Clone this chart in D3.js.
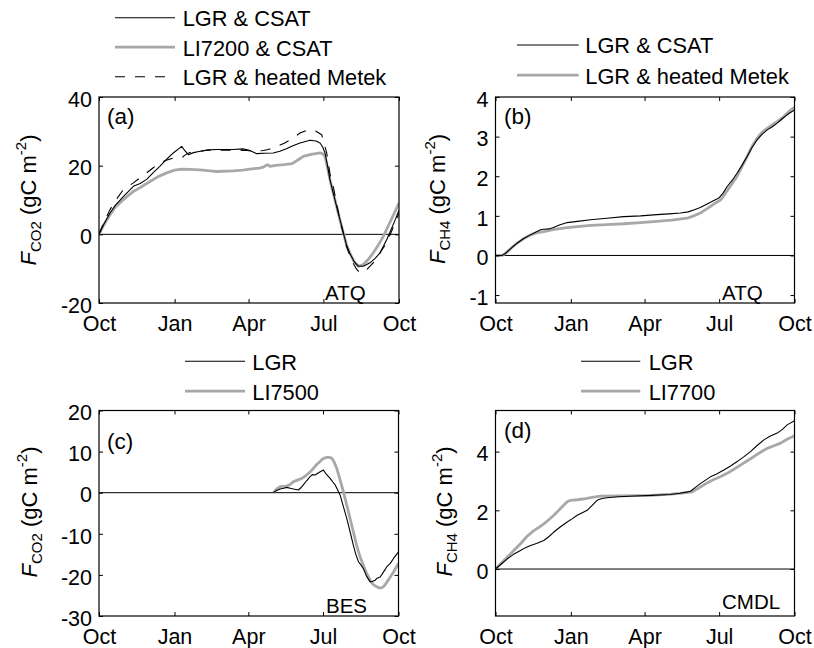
<!DOCTYPE html>
<html><head><meta charset="utf-8">
<script src="https://cdn.jsdelivr.net/npm/d3@7"></script>
<style>
body{margin:0;background:#fff}
svg{display:block}
text{font-family:"Liberation Sans",Arial,Helvetica,sans-serif;fill:#000}
</style>
</head><body>
<svg id="chart" width="814" height="648"></svg>
<script>
// ---------- data ----------
const startDate = "2012-10-01", endDate = "2013-10-01";
const monthTicks = ["2012-10-01","2013-01-01","2013-04-01","2013-07-01","2013-10-01"];
const monthLabels = ["Oct","Jan","Apr","Jul","Oct"];

// [days since 1 Oct, cumulative flux]
const atqCo2LgrCsat = [[0,0],[6,3],[13.4,6.2],[20,8.5],[29.6,11],[41.8,14],[50,14.8],[58,16],[66,18],[74,19.8],[82,21.8],[90.4,23.7],[100.6,25.6],[104,24.5],[108.7,23.2],[115,23.8],[122.9,24.2],[133,24.6],[143,24.7],[163,24.7],[175,24.9],[183,24.5],[191.8,23.5],[200,23.6],[212,23.7],[220,24.2],[228,24.9],[236,25.8],[244.5,26.6],[256.7,27.4],[264,27.2],[268.9,26.6],[272,25.5],[275,23.7],[278,20],[281,15.9],[285,12],[289,8.2],[293,4.5],[297.3,0.4],[301,-3],[305,-5.4],[310,-7.8],[315.5,-9.3],[321.6,-9.3],[329.7,-8.3],[336,-7],[341.9,-5.4],[346,-3.5],[350,-1.6],[355,1.2],[360,4],[365,7]];
const atqCo2Li7200Csat = [[0,0],[6,2.8],[13.4,5.7],[20,8],[29.6,10.1],[41.8,12.5],[50,13.6],[62,15.4],[72,16.8],[82.3,17.9],[92,18.7],[100.6,19],[110,18.9],[122.9,18.8],[135,18.5],[143,18.3],[163,18.5],[175,18.7],[183.7,19],[195,19.3],[200,19.6],[205,20.3],[208,19.8],[215,20.1],[225,20.3],[235,20.6],[241,21.5],[248.6,22.7],[258,23.3],[268.9,23.7],[272,23.5],[275,22.7],[278,19.5],[281,15.9],[285,12],[289,8.2],[293,4.3],[297.3,0.4],[301,-3],[305,-5.4],[310,-7.8],[315.5,-9.3],[321.6,-8.8],[327,-7.5],[333.7,-5.4],[340,-3],[346,-0.6],[352,2.5],[358,5.5],[365,9.1]];
const atqCo2LgrMetek = [[0,0],[6,3.5],[13.4,7.2],[20,9.8],[29.6,13],[41.8,15],[50,16.5],[58,17.9],[66,19.4],[74,20.8],[82,21.6],[90.4,22.2],[100.6,22.2],[104,23],[110,23.8],[118,24],[131,24.5],[163,24.5],[180,24.4],[188,24.2],[200,24.4],[206,24.7],[215,25.5],[226,26.6],[236,28],[244.5,29.5],[252,30.2],[259,30.5],[264,30],[271,29],[275,25.5],[277,23.7],[281.5,17],[285,14],[289,9],[293,4.3],[297.5,0],[301,-3.5],[305,-6],[309,-8.3],[313,-10],[317.5,-11.3],[321,-11],[325.6,-10.3],[331,-9],[337,-7.4],[343,-5],[350,-2.5],[357,1.5],[365,6.2]];

const atqCh4LgrCsat = [[0,0],[8,0],[12,0.05],[20,0.2],[26.4,0.31],[34,0.42],[42.7,0.52],[50,0.6],[55,0.65],[59,0.66],[65,0.67],[70,0.7],[78,0.77],[87.5,0.83],[100,0.86],[116,0.9],[136,0.94],[156.7,0.98],[177,1.0],[197,1.03],[212,1.05],[225.8,1.07],[235,1.1],[242,1.15],[250,1.21],[258.4,1.3],[266,1.38],[272.6,1.45],[278,1.58],[282.8,1.74],[289,1.9],[295,2.08],[301,2.28],[307.2,2.5],[313,2.72],[319.4,2.92],[325,3.05],[331.7,3.17],[338,3.25],[343.9,3.34],[350,3.45],[356,3.55],[361,3.62],[365,3.67]];
const atqCh4LgrMetek = [[0,0],[8,0],[12,0.05],[20,0.2],[26.4,0.31],[34,0.42],[42.7,0.52],[50,0.57],[59,0.6],[70,0.65],[87.5,0.7],[100,0.73],[116,0.76],[136,0.78],[156.7,0.8],[177,0.83],[197,0.86],[215,0.89],[234,0.94],[242,1.0],[250,1.07],[256,1.15],[262.5,1.24],[268,1.32],[274.7,1.4],[280,1.55],[285,1.7],[290,1.85],[295,2.0],[301,2.25],[307.2,2.5],[313,2.75],[319.4,2.96],[325,3.1],[331.7,3.21],[338,3.3],[343.9,3.38],[350,3.47],[356,3.59],[361,3.68],[365,3.74]];

const besCo2Lgr = [[212.6,0],[216,0.5],[220.7,0.9],[225,1.1],[228.8,1.3],[233,1.1],[237,0.9],[243,0.65],[246,1.2],[249,1.9],[253,2.9],[257.3,3.9],[260,4.4],[263.4,4.3],[268,4.9],[273.5,5.5],[277,4.5],[281.7,3.5],[285,2.6],[287.8,1.9],[290,1],[293.9,-0.6],[298,-3.5],[302,-6.3],[306,-9.5],[310,-12.8],[313,-15],[316.2,-16.8],[319,-17.5],[322.3,-18.5],[326,-20.3],[330.5,-21.7],[333,-21.6],[336.5,-21.3],[339,-20.8],[342.7,-20.5],[347,-19.2],[350.8,-18],[355,-17.2],[358.9,-16],[362,-15.2],[365,-14.4]];
const besCo2Li7500 = [[212.6,0],[216,0.8],[220.7,1.5],[228.8,1.6],[233,2.0],[237,2.7],[241,3.0],[245,3.3],[249,3.7],[253,4.3],[257,5.0],[261.3,5.9],[265,6.8],[269.4,7.6],[273,8.3],[277.6,8.6],[280,8.6],[283.7,8.4],[286.5,7.5],[289.8,5.9],[294,3],[297.9,0.2],[302,-3],[306,-6.3],[310,-9.5],[314,-12.8],[318,-15.5],[322,-17.6],[326,-19.6],[330.5,-21.3],[334,-22.3],[338.6,-22.9],[341.5,-23.2],[344.8,-23.1],[348,-22.6],[351,-21.7],[355,-20.5],[359,-19.3],[362,-18.2],[365,-17.2]];

const cmdlCh4Lgr = [[0,0],[7,0.17],[14.2,0.34],[22,0.5],[30.5,0.63],[36,0.72],[42.7,0.8],[50,0.87],[59,0.97],[65,1.1],[71.2,1.26],[79,1.43],[87.5,1.6],[93,1.7],[99.7,1.83],[106,1.92],[111.9,2.0],[118,2.17],[124,2.34],[130,2.4],[136.3,2.43],[150,2.46],[170,2.49],[190,2.51],[213.6,2.54],[225,2.58],[233,2.62],[238,2.65],[244,2.78],[250,2.91],[256,3.02],[262.4,3.14],[270,3.24],[278.7,3.37],[287,3.51],[295,3.66],[303,3.82],[311.3,4.0],[319,4.2],[327.6,4.4],[335,4.52],[343.9,4.63],[350,4.75],[356,4.91],[365,5.05]];
const cmdlCh4Li7700 = [[0,0],[7,0.2],[14.2,0.4],[22,0.62],[30.5,0.86],[38,1.1],[46.8,1.31],[53,1.42],[59,1.54],[65,1.68],[71.2,1.83],[79,2.05],[87.5,2.29],[91.6,2.34],[100,2.36],[110,2.4],[118,2.44],[128,2.48],[150,2.49],[170,2.5],[190,2.51],[213.6,2.55],[225,2.58],[240,2.63],[247,2.74],[254,2.86],[260,2.96],[266.5,3.05],[275,3.15],[282.8,3.26],[291,3.4],[299,3.54],[307,3.68],[315.3,3.83],[323,3.97],[331.6,4.11],[340,4.2],[348,4.29],[356,4.42],[365,4.54]];

const ticksA = [-20,0,20,40], ticksB = [-1,0,1,2,3,4], ticksC = [-30,-20,-10,0,10,20], ticksD = [0,2,4];

// ---------- styles / layout ----------
const STY = {
  black: {stroke:"#000", width:1.1, dash:null},
  grey:  {stroke:"#a8a8a8", width:2.8, dash:null},
  dash:  {stroke:"#000", width:1.1, dash:"10,10"}
};
const panels = [
  {x0:99, y0:97, w:300, h:206, dom:[-20,40], ticks:ticksA, gas:"CO2", tag:"(a)", tagXY:[107,123.5], site:"ATQ", siteXY:[325,300], ylab:[36,200],
   series:[[atqCo2LgrCsat,"black","LGR & CSAT"],[atqCo2Li7200Csat,"grey","LI7200 & CSAT"],[atqCo2LgrMetek,"dash","LGR & heated Metek"]],
   leg:{x1:115,x2:175,tx:182.7,rows:[26,55.5,85]}},
  {x0:495.5, y0:97, w:299, h:206, dom:[-1.2,4], ticks:ticksB, gas:"CH4", tag:"(b)", tagXY:[504,123.5], site:"ATQ", siteXY:[722,300], ylab:[445,199],
   series:[[atqCh4LgrCsat,"black","LGR & CSAT"],[atqCh4LgrMetek,"grey","LGR & heated Metek"]],
   leg:{x1:517,x2:578.7,tx:585.3,rows:[53.3,83.5]}},
  {x0:99, y0:410.5, w:299.5, h:205.5, dom:[-30,20], ticks:ticksC, gas:"CO2", tag:"(c)", tagXY:[107,449], site:"BES", siteXY:[326,613], ylab:[37,512],
   series:[[besCo2Lgr,"black","LGR"],[besCo2Li7500,"grey","LI7500"]],
   leg:{x1:185,x2:245,tx:252.3,rows:[369.5,399.5]}},
  {x0:495.5, y0:410.5, w:299, h:205.5, dom:[-1.6,5.4], ticks:ticksD, gas:"CH4", tag:"(d)", tagXY:[504,437.5], site:"CMDL", siteXY:[722,609], ylab:[452,511.5],
   series:[[cmdlCh4Lgr,"black","LGR"],[cmdlCh4Li7700,"grey","LI7700"]],
   leg:{x1:581,x2:640.3,tx:648.7,rows:[369.5,399.5]}}
];

const svg = d3.select("#chart");
const parse = d3.utcParse("%Y-%m-%d");
const t0 = parse(startDate), t1 = parse(endDate);
const tickDates = monthTicks.map(parse);
const dayToDate = d => new Date(t0.getTime() + d*864e5);
const fmtY = v => (v < 0 ? "-" : "") + Math.abs(v);

const TICKFS = 21.5, LEGFS = 21.8;

panels.forEach((p, i) => {
  const x = d3.scaleUtc().domain([t0, t1]).range([p.x0, p.x0 + p.w]);
  const y = d3.scaleLinear().domain(p.dom).range([p.y0 + p.h, p.y0]);
  const g = svg.append("g");

  const cid = "clip" + i;
  svg.append("clipPath").attr("id", cid).append("rect")
    .attr("x", p.x0).attr("y", p.y0).attr("width", p.w).attr("height", p.h);

  // zero line
  g.append("line").attr("x1", p.x0).attr("x2", p.x0 + p.w)
    .attr("y1", y(0)).attr("y2", y(0)).attr("stroke", "#000").attr("stroke-width", 1);

  // series
  const line = d3.line().x(d => x(dayToDate(d[0]))).y(d => y(d[1]));
  const order = p.series.slice().sort((a,b) => (a[1]==="grey"?0:1) - (b[1]==="grey"?0:1));
  order.forEach(([data, sty]) => {
    const s = STY[sty];
    g.append("path").datum(data).attr("clip-path", `url(#${cid})`)
      .attr("d", line).attr("fill", "none")
      .attr("stroke", s.stroke).attr("stroke-width", s.width)
      .attr("stroke-dasharray", s.dash).attr("stroke-linejoin", "round");
  });

  // axes (inward ticks on all four sides)
  const bottom = g.append("g").attr("transform", `translate(0,${p.y0 + p.h})`)
    .call(d3.axisBottom(x).tickValues(tickDates).tickFormat((d, k) => monthLabels[k]).tickSizeInner(-4).tickSizeOuter(0).tickPadding(12.6));
  const top = g.append("g").attr("transform", `translate(0,${p.y0})`)
    .call(d3.axisTop(x).tickValues(tickDates).tickFormat("").tickSizeInner(-4).tickSizeOuter(0));
  const left = g.append("g").attr("transform", `translate(${p.x0},0)`)
    .call(d3.axisLeft(y).tickValues(p.ticks).tickFormat(fmtY).tickSizeInner(-4).tickSizeOuter(0).tickPadding(7));
  const right = g.append("g").attr("transform", `translate(${p.x0 + p.w},0)`)
    .call(d3.axisRight(y).tickValues(p.ticks).tickFormat("").tickSizeInner(-4).tickSizeOuter(0));
  [bottom, top, left, right].forEach(a => {
    a.select(".domain").remove();
    a.selectAll(".tick line").attr("stroke", "#000").attr("stroke-width", 1);
    a.selectAll("text").attr("font-family", null).attr("font-size", TICKFS).attr("fill", "#000");
  });
  bottom.selectAll(".tick text").attr("dy", "0.71em");
  left.selectAll(".tick text").attr("dy", "0.43em");

  // box
  g.append("rect").attr("x", p.x0).attr("y", p.y0).attr("width", p.w).attr("height", p.h)
    .attr("fill", "none").attr("stroke", "#000").attr("stroke-width", 1.2);

  // panel tag & site
  g.append("text").attr("x", p.tagXY[0]).attr("y", p.tagXY[1]).attr("font-size", 22.5).text(p.tag);
  g.append("text").attr("x", p.siteXY[0]).attr("y", p.siteXY[1]).attr("font-size", 20.5).text(p.site);

  // y label
  const yl = g.append("text").attr("transform", `translate(${p.ylab[0]},${p.ylab[1]}) rotate(-90)`)
    .attr("text-anchor", "middle").attr("font-size", 22);
  yl.append("tspan").attr("font-style", "italic").text("F");
  yl.append("tspan").attr("font-size", 15).attr("dy", 5).text(p.gas);
  yl.append("tspan").attr("dy", -5).text(" (gC m");
  yl.append("tspan").attr("font-size", 15).attr("dy", -10).text("-2");
  yl.append("tspan").attr("dy", 10).text(")");

  // legend
  p.series.forEach(([data, sty, name], k) => {
    const s = STY[sty];
    const by = p.leg.rows[k];
    g.append("line").attr("x1", p.leg.x1).attr("x2", p.leg.x2).attr("y1", by - 8.3).attr("y2", by - 8.3)
      .attr("stroke", s.stroke).attr("stroke-width", s.width).attr("stroke-dasharray", s.dash);
    g.append("text").attr("x", p.leg.tx).attr("y", by).attr("font-size", LEGFS).text(name);
  });
});
</script>
</body></html>
